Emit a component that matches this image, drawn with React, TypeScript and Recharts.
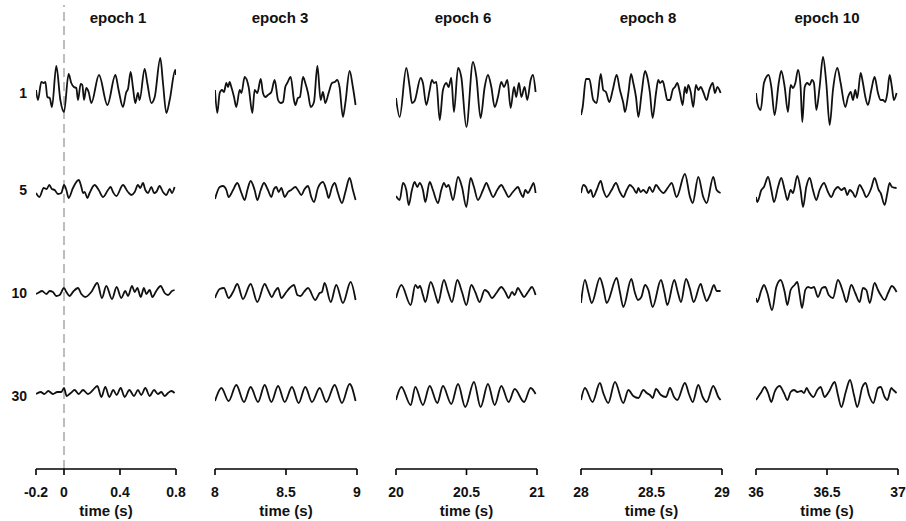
import React from "react";
import { LineChart, Line, XAxis, YAxis, ReferenceLine } from "recharts";

// ---- categories / labels ----
const EPOCH_TITLES = ["epoch 1", "epoch 3", "epoch 6", "epoch 8", "epoch 10"];
const EPOCH_STARTS = [-0.2, 8, 20, 28, 36];
const ROW_LABELS = ["1", "5", "10", "30"];
const TICKS = [
  [-0.2, 0, 0.4, 0.8],
  [8, 8.5, 9],
  [20, 20.5, 21],
  [28, 28.5, 29],
  [36, 36.5, 37],
];

// ---- traces: [ms from epoch start, amplitude] ----
const e1r1 = [[0,3],[14,-7],[38,11],[55,10],[67,11],[81,-4],[98,-5],[114,-14],[145,27],[174,-7],[200,-19],[233,19],[252,10],[271,6],[288,5],[300,-7],[319,9],[331,8],[343,-7],[359,5],[376,1],[395,-10],[450,18],[510,-12],[567,18],[590,3],[621,-14],[645,1],[657,4],[676,21],[693,5],[709,-10],[728,0],[740,-7],[776,24],[795,10],[824,-10],[848,-4],[888,35],[907,10],[931,-20],[955,-7],[995,23],[1000,18]];
const e1r5 = [[0,-3],[24,-7],[55,2],[76,1],[95,5],[114,1],[133,0],[157,-4],[181,-3],[200,5],[217,0],[233,-8],[264,2],[305,10],[324,3],[336,-3],[348,-2],[367,-8],[383,-3],[419,5],[448,0],[479,-7],[514,0],[533,3],[550,-2],[574,-6],[621,5],[657,-2],[681,-5],[705,-2],[728,5],[745,2],[764,7],[781,0],[800,-3],[824,3],[843,-3],[859,-2],[883,4],[907,-2],[931,-5],[955,1],[971,-3],[990,3]];
const e1r10 = [[0,-1],[14,0],[43,2],[74,-1],[98,2],[121,1],[145,-3],[169,-2],[200,5],[217,1],[240,-3],[264,1],[300,5],[324,-1],[352,-4],[395,1],[438,10],[471,-5],[502,7],[543,-6],[576,6],[609,-5],[638,2],[657,-3],[686,7],[705,1],[724,5],[748,-4],[771,5],[788,-1],[812,3],[831,-4],[859,2],[890,7],[919,0],[943,-2],[971,2],[990,3]];
const e1r30 = [[0,2],[33,4],[60,2],[88,5],[121,2],[152,4],[181,4],[200,8],[219,0],[248,3],[276,6],[305,2],[336,6],[371,2],[407,6],[438,10],[467,-1],[495,9],[524,-1],[552,6],[576,1],[605,8],[633,-1],[667,6],[700,0],[728,6],[752,1],[781,8],[812,0],[843,6],[871,2],[895,4],[919,0],[943,3],[967,5],[990,3]];

const e3r1 = [[0,3],[16,-20],[33,0],[49,3],[63,1],[80,10],[92,6],[103,11],[115,6],[134,-4],[150,-14],[174,3],[186,0],[209,16],[237,6],[263,-20],[279,3],[298,0],[322,14],[338,0],[354,-4],[373,-2],[397,1],[420,13],[444,-7],[462,-10],[479,-9],[495,6],[509,10],[533,16],[556,-7],[566,-12],[584,-5],[598,-4],[620,16],[636,10],[655,0],[674,-14],[697,-9],[721,27],[744,-7],[760,1],[777,-10],[800,0],[824,10],[843,11],[861,13],[877,6],[901,-24],[918,-10],[948,22],[971,6],[990,-12]];
const e3r5 = [[0,-9],[33,3],[56,4],[80,0],[96,-7],[127,0],[157,7],[186,-3],[209,-10],[228,0],[251,9],[279,0],[298,-10],[322,0],[345,7],[373,0],[397,-7],[415,1],[432,3],[448,-2],[467,2],[491,-7],[514,-2],[537,0],[566,3],[584,0],[608,-5],[631,1],[655,4],[678,-7],[697,-12],[725,2],[760,8],[784,0],[800,-8],[824,3],[843,7],[866,-3],[894,-13],[918,-2],[948,12],[971,0],[990,-10]];
const e3r10 = [[0,-5],[33,4],[63,5],[96,-5],[127,1],[157,9],[197,-6],[251,9],[298,-9],[350,9],[373,3],[401,-4],[420,1],[444,5],[467,-5],[502,1],[526,5],[556,8],[580,-2],[603,-3],[626,1],[655,5],[706,-7],[737,0],[753,1],[772,10],[815,-9],[854,8],[901,-10],[955,11],[990,-7]];
const e3r30 = [[0,-5],[45,8],[96,-5],[150,11],[204,-6],[251,9],[303,-6],[350,11],[397,-6],[444,10],[491,-6],[542,9],[589,-7],[636,9],[683,-6],[737,8],[784,-6],[843,11],[894,-7],[948,12],[990,-5]];

const e6r1 = [[0,-5],[26,-24],[73,25],[97,6],[113,-10],[132,-8],[175,15],[191,10],[215,-12],[239,3],[255,13],[269,10],[286,11],[310,-27],[333,3],[357,10],[373,6],[392,15],[411,-19],[440,25],[463,16],[499,-34],[546,31],[570,16],[600,-25],[629,6],[652,18],[676,6],[700,-14],[723,-4],[747,11],[766,6],[790,13],[813,-15],[837,6],[853,-4],[872,10],[889,-4],[912,6],[931,-7],[955,13],[971,18],[990,1]];
const e6r5 = [[0,-6],[26,-10],[50,7],[73,0],[90,-15],[113,0],[132,8],[151,3],[168,7],[191,0],[208,-12],[239,8],[262,0],[298,-13],[321,0],[340,7],[357,3],[373,5],[404,-10],[440,13],[468,3],[499,-17],[529,12],[553,3],[581,-10],[617,0],[641,7],[664,0],[688,-7],[718,0],[747,5],[770,0],[799,-7],[823,-3],[841,0],[865,3],[884,-3],[901,-7],[917,0],[936,-3],[960,3],[976,7],[990,-3]];
const e6r10 = [[0,-5],[38,8],[104,-12],[137,8],[156,5],[170,7],[191,-2],[208,-9],[246,11],[286,-5],[298,-10],[340,13],[369,1],[397,-9],[435,13],[468,1],[499,-12],[534,8],[562,1],[593,-9],[629,3],[652,1],[681,-5],[712,0],[747,6],[775,1],[799,-5],[823,1],[841,-2],[865,5],[884,1],[908,-4],[936,1],[964,6],[990,-2]];
const e6r30 = [[0,-4],[38,9],[104,-9],[137,9],[191,-9],[239,10],[293,-7],[333,10],[392,-8],[440,12],[491,-11],[553,14],[600,-11],[652,12],[700,-9],[747,10],[799,-6],[842,7],[908,-6],[955,8],[990,2]];

const e8r1 = [[0,-22],[12,-14],[35,14],[59,14],[87,-7],[111,-10],[140,19],[158,3],[177,1],[201,-9],[225,3],[253,18],[276,3],[300,-10],[312,-19],[336,0],[355,19],[371,10],[390,-4],[407,-24],[430,0],[454,22],[470,16],[489,0],[508,-25],[532,0],[548,13],[560,10],[579,12],[596,3],[612,-7],[631,-7],[650,3],[666,6],[683,10],[702,0],[721,-12],[737,6],[749,0],[761,8],[778,1],[796,-14],[815,8],[832,3],[849,6],[867,1],[891,-7],[910,3],[934,10],[950,0],[967,6],[990,0]];
const e8r5 = [[0,-3],[17,5],[35,3],[52,-3],[69,0],[87,-7],[111,0],[140,9],[158,0],[182,-7],[217,0],[248,7],[276,-2],[300,-7],[324,0],[347,5],[371,2],[394,-3],[407,2],[423,-2],[442,0],[466,-3],[485,3],[508,-2],[532,5],[560,0],[584,-3],[619,3],[643,7],[678,-7],[737,16],[773,-7],[792,-13],[832,13],[867,-7],[891,-13],[938,13],[962,0],[990,-3]];
const e8r10 = [[0,-10],[28,13],[52,1],[76,-10],[134,15],[158,5],[182,-10],[253,15],[276,1],[300,-14],[357,14],[381,1],[404,-7],[428,-4],[454,8],[478,3],[508,-14],[567,13],[591,1],[612,-12],[662,13],[686,1],[709,-9],[745,14],[771,5],[799,-9],[849,9],[867,1],[891,-8],[915,-2],[943,8],[962,2],[990,2]];
const e8r30 = [[0,-4],[28,8],[82,-6],[134,13],[158,3],[193,-7],[241,14],[300,-7],[336,6],[371,0],[407,-2],[442,6],[466,3],[489,1],[508,-2],[532,7],[567,1],[603,-1],[631,8],[660,-1],[683,-4],[737,13],[768,1],[792,-6],[832,11],[863,-1],[891,-6],[938,10],[974,-1],[990,-4]];

const e10r1 = [[0,0],[9,-10],[33,-17],[56,10],[89,18],[108,6],[131,-22],[160,10],[178,22],[202,6],[225,-19],[244,8],[260,5],[277,10],[296,23],[314,6],[326,-29],[343,6],[361,10],[378,8],[394,13],[408,10],[425,-17],[448,6],[472,36],[495,10],[519,-32],[542,3],[573,25],[596,10],[629,-14],[648,-4],[667,1],[683,-7],[699,3],[713,-5],[737,20],[753,10],[770,-4],[788,-12],[812,3],[835,16],[859,0],[878,-7],[894,-7],[910,-9],[925,0],[941,18],[957,6],[971,-7],[990,0]];
const e10r5 = [[0,-7],[9,-12],[38,0],[56,3],[85,13],[108,0],[127,-12],[155,3],[178,12],[202,0],[221,-10],[244,0],[260,-3],[291,14],[314,0],[331,-17],[354,3],[378,12],[401,0],[425,-10],[448,0],[479,7],[507,-2],[530,-7],[554,0],[577,3],[601,0],[624,2],[643,-5],[660,0],[683,-3],[699,-7],[730,5],[753,0],[777,-7],[812,2],[835,12],[864,0],[878,-3],[906,-15],[925,-3],[941,7],[957,3],[990,2]];
const e10r10 = [[0,-5],[9,-9],[38,3],[56,8],[80,0],[113,-17],[143,6],[174,13],[202,1],[221,-12],[244,3],[272,8],[291,11],[308,-2],[324,-15],[347,3],[366,6],[389,5],[408,6],[436,-4],[465,5],[488,6],[512,-2],[542,-5],[577,13],[613,1],[636,-9],[671,8],[699,0],[730,-9],[753,5],[777,3],[801,-10],[835,10],[859,3],[878,-2],[906,-7],[930,0],[957,7],[990,1]];
const e10r30 = [[0,-4],[38,4],[61,9],[85,3],[108,-6],[131,4],[166,10],[197,3],[221,-4],[244,4],[268,6],[291,4],[319,5],[338,3],[357,8],[373,4],[404,-1],[432,6],[455,9],[483,-1],[512,4],[554,14],[577,1],[601,-11],[632,4],[662,16],[690,1],[713,-11],[749,9],[772,13],[796,1],[826,-7],[859,8],[878,9],[906,-1],[925,-4],[953,8],[967,6],[990,3]];

const TRACES = [
  [e1r1, e1r5, e1r10, e1r30],
  [e3r1, e3r5, e3r10, e3r30],
  [e6r1, e6r5, e6r10, e6r30],
  [e8r1, e8r5, e8r10, e8r30],
  [e10r1, e10r5, e10r10, e10r30],
];

// ---- layout ----
const W = 906;
const H = 521;
const PANEL_X = [36, 215, 396, 581, 756];
const PANEL_W = [140, 142, 141, 141, 142];
const ROW_Y = [93, 190, 293, 396];
const AXIS_Y = 469;
const TOP = 5;
const M = 24;
const TITLE_CX = [118, 280, 463, 648, 827];
const FONT = '"Liberation Sans", Arial, Helvetica, sans-serif';

function build(tr: number[][], start: number) {
  return tr.map(([ms, v]) => ({ t: start + ms / 1000, v }));
}

function Column({ idx }: { idx: number }) {
  const start = EPOCH_STARTS[idx];
  const x0 = PANEL_X[idx];
  const w = PANEL_W[idx];
  return (
    <div style={{ position: "absolute", left: x0 - M, top: 0 }}>
      <LineChart width={w + 2 * M} height={H} margin={{ top: TOP, right: M, bottom: 0, left: M }}>
        <XAxis
          type="number"
          dataKey="t"
          domain={[start, start + 1]}
          ticks={TICKS[idx]}
          interval={0}
          allowDataOverflow
          height={H - AXIS_Y}
          stroke="#000"
          strokeWidth={1.6}
          tickSize={6}
          tickMargin={12}
          tickLine={{ stroke: "#000", strokeWidth: 1.6 }}
          tick={{ fill: "#111", fontSize: 14, fontWeight: 700, fontFamily: FONT }}
        />
        {ROW_Y.map((yb, r) => (
          <YAxis
            key={r}
            yAxisId={`r${r}`}
            hide
            type="number"
            domain={[yb - AXIS_Y, yb - TOP]}
            allowDataOverflow
          />
        ))}
        {idx === 0 && (
          <ReferenceLine x={0} yAxisId="r0" stroke="#9a9a9a" strokeWidth={1.3} strokeDasharray="9 5" />
        )}
        {TRACES[idx].map((tr, r) => (
          <Line
            key={r}
            yAxisId={`r${r}`}
            data={build(tr, start)}
            dataKey="v"
            type="monotone"
            stroke="#111"
            strokeWidth={1.8}
            dot={false}
            activeDot={false}
            isAnimationActive={false}
          />
        ))}
      </LineChart>
    </div>
  );
}

export default function App() {
  const textStyle: React.CSSProperties = {
    position: "absolute",
    fontFamily: FONT,
    fontWeight: 700,
    color: "#111",
    whiteSpace: "nowrap",
    lineHeight: "16px",
  };
  return (
    <div style={{ position: "absolute", left: 0, top: 0, width: W, height: H, background: "#fff", overflow: "hidden" }}>
      {EPOCH_TITLES.map((t, i) => (
        <div key={t} style={{ ...textStyle, fontSize: 15, left: TITLE_CX[i], top: 10, transform: "translateX(-50%)" }}>
          {t}
        </div>
      ))}
      {ROW_LABELS.map((t, i) => (
        <div key={t} style={{ ...textStyle, fontSize: 14, right: W - 27, top: ROW_Y[i] - 8, textAlign: "right" }}>
          {t}
        </div>
      ))}
      {EPOCH_STARTS.map((s, i) => (
        <div key={s} style={{ ...textStyle, fontSize: 15, left: PANEL_X[i] + PANEL_W[i] / 2, top: 503, transform: "translateX(-50%)" }}>
          time (s)
        </div>
      ))}
      {EPOCH_STARTS.map((s, i) => (
        <Column key={s} idx={i} />
      ))}
    </div>
  );
}
